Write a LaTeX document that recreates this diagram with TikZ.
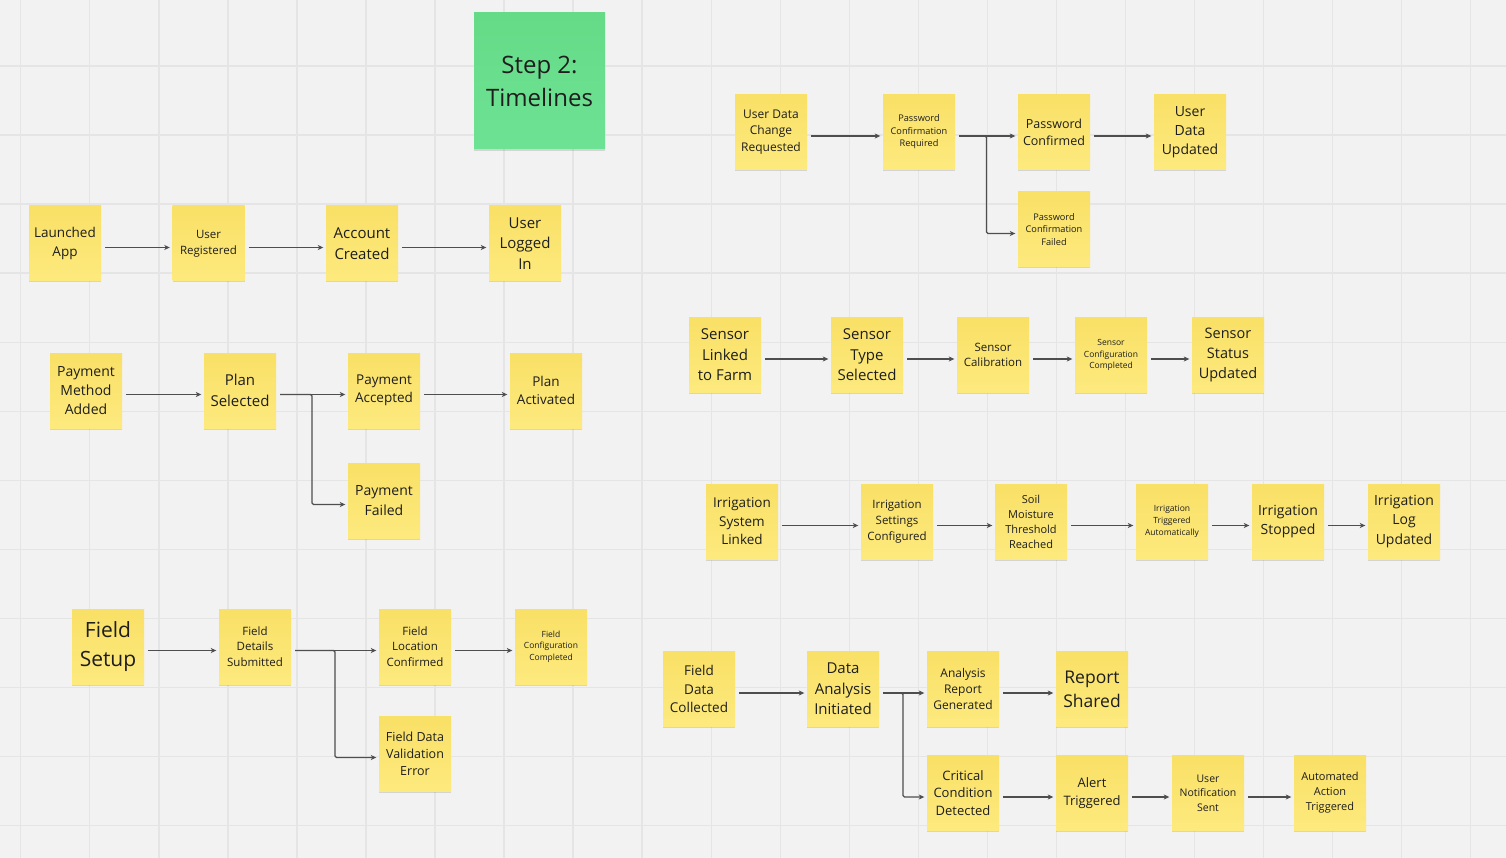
\documentclass[tikz,border=0pt]{standalone}
\usepackage{fontspec}
\setmainfont{Open Sans}
\usetikzlibrary{arrows.meta,calc,shadows}

\definecolor{board}{RGB}{242,242,242}
\definecolor{gridc}{RGB}{229,229,229}
\definecolor{stickytop}{RGB}{249,224,102}
\definecolor{stickybot}{RGB}{253,234,126}
\definecolor{greentop}{RGB}{101,219,135}
\definecolor{greenbot}{RGB}{110,226,148}
\definecolor{ink}{RGB}{30,30,30}
\definecolor{wire}{RGB}{78,78,78}

% font size with matching line spacing
\newcommand\fz[1]{\fontsize{#1}{\fpeval{1.37*#1}}\selectfont}

\tikzset{
  sticky/.style={rectangle, minimum width=72pt, minimum height=75pt,
    inner sep=0pt, align=center, text=ink, font=\fz{#1},
    top color=stickytop, bottom color=stickybot,
    drop shadow={shadow xshift=0pt, shadow yshift=-1.5pt, opacity=.12, fill=black}},
  title/.style={rectangle, minimum width=131pt, minimum height=136pt,
    inner sep=0pt, align=center, text=ink, font=\fz{24},
    top color=greentop, bottom color=greenbot,
    drop shadow={shadow xshift=0pt, shadow yshift=-2pt, opacity=.12, fill=black}},
  arr/.style={draw=wire, line width=1.1pt, rounded corners=1.5pt,
    -{Stealth[length=5.5pt,width=5pt,inset=1.5pt]},
    shorten <=4pt, shorten >=2.5pt},
  gridline/.style={draw=gridc, line width=1.4pt}
}

% straight connector and a two-way split
\newcommand\flow[2]{\draw[arr] ([yshift=-4pt]#1.east) -- ([yshift=-4pt]#2.west);}
\newcommand\fork[3]{\draw[arr] ([yshift=-4pt]#1.east) --
  ($([yshift=-4pt]#1.east)!.5!([yshift=-4pt]#2.west)$) |- ([yshift=-4pt]#3.west);}

\begin{document}
\begin{tikzpicture}[x=1pt,y=-1pt]
\useasboundingbox (0,0) rectangle (1506,858);
\fill[board] (0,0) rectangle (1506,858);
\foreach \i in {0,...,21} \draw[gridline] ({20.7+69.05*\i},0) -- ++(0,858);
\foreach \j in {1,...,12} \draw[gridline] (0,{-3+69.05*\j}) -- ++(1506,0);

\node[title] (ttl) at (539.5,81) {Step 2:\\Timelines};

% onboarding
\node[sticky=13.5] (launch) at (65,243.5) {Launched\\App};
\node[sticky=11.5] (ureg) at (208.5,243.5) {User\\Registered};
\node[sticky=15] (acct) at (362,243.5) {Account\\Created};
\node[sticky=15] (login) at (525,243.5) {User\\Logged\\In};
\flow{launch}{ureg}
\flow{ureg}{acct}
\flow{acct}{login}

% subscription
\node[sticky=14] (pma) at (86,390.5) {Payment\\Method\\Added};
\node[sticky=15] (plan) at (240,390.5) {Plan\\Selected};
\node[sticky=13.5] (pacc) at (384,390.5) {Payment\\Accepted};
\node[sticky=13.5] (pact) at (546,390.5) {Plan\\Activated};
\node[sticky=14] (pfail) at (384,500.5) {Payment\\Failed};
\flow{pma}{plan}
\flow{plan}{pacc}
\fork{plan}{pacc}{pfail}
\flow{pacc}{pact}

% field setup
\node[sticky=21] (fset) at (108,646.5) {Field\\Setup};
\node[sticky=11.5] (fdet) at (255,646.5) {Field\\Details\\Submitted};
\node[sticky=11.5] (floc) at (415,646.5) {Field\\Location\\Confirmed};
\node[sticky=8.5] (fconf) at (551,646.5) {Field\\Configuration\\Completed};
\node[sticky=12.5] (ferr) at (415,753.5) {Field Data\\Validation\\Error};
\flow{fset}{fdet}
\flow{fdet}{floc}
\fork{fdet}{floc}{ferr}
\flow{floc}{fconf}

% account data change
\node[sticky=12] (udcr) at (771,132) {User Data\\Change\\Requested};
\node[sticky=9.2] (pcr) at (919,132) {Password\\Confirmation\\Required};
\node[sticky=12.5] (pconf) at (1054,132) {Password\\Confirmed};
\node[sticky=14] (udu) at (1190,132) {User\\Data\\Updated};
\node[sticky=9.2] (pcf) at (1054,229.5) {Password\\Confirmation\\Failed};
\flow{udcr}{pcr}
\flow{pcr}{pconf}
\fork{pcr}{pconf}{pcf}
\flow{pconf}{udu}

% sensors
\node[sticky=15] (slink) at (725,355) {Sensor\\Linked\\to Farm};
\node[sticky=15] (stype) at (867,355) {Sensor\\Type\\Selected};
\node[sticky=11.5] (scal) at (993,355) {Sensor\\Calibration};
\node[sticky=8.5] (sconf) at (1111,355) {Sensor\\Configuration\\Completed};
\node[sticky=14.5] (sstat) at (1228,355) {Sensor\\Status\\Updated};
\flow{slink}{stype}
\flow{stype}{scal}
\flow{scal}{sconf}
\flow{sconf}{sstat}

% irrigation
\node[sticky=13.5] (isys) at (742,521.5) {Irrigation\\System\\Linked};
\node[sticky=11.5] (iset) at (897,521.5) {Irrigation\\Settings\\Configured};
\node[sticky=11] (soil) at (1031,521.5) {Soil\\Moisture\\Threshold\\Reached};
\node[sticky=8.5] (itrig) at (1172,521.5) {Irrigation\\Triggered\\Automatically};
\node[sticky=14] (istop) at (1288,521.5) {Irrigation\\Stopped};
\node[sticky=14] (ilog) at (1404,521.5) {Irrigation\\Log\\Updated};
\flow{isys}{iset}
\flow{iset}{soil}
\flow{soil}{itrig}
\flow{itrig}{istop}
\flow{istop}{ilog}

% field data analysis
\node[sticky=13.5] (fdc) at (699,689) {Field\\Data\\Collected};
\node[sticky=15] (dai) at (843,689) {Data\\Analysis\\Initiated};
\node[sticky=12] (arg) at (963,689) {Analysis\\Report\\Generated};
\node[sticky=17.5] (rsh) at (1092,689) {Report\\Shared};
\node[sticky=13] (ccd) at (963,793) {Critical\\Condition\\Detected};
\node[sticky=13] (alert) at (1092,793) {Alert\\Triggered};
\node[sticky=10.5] (uns) at (1208,793) {User\\Notification\\Sent};
\node[sticky=11] (aat) at (1330,793) {Automated\\Action\\Triggered};
\flow{fdc}{dai}
\flow{dai}{arg}
\fork{dai}{arg}{ccd}
\flow{arg}{rsh}
\flow{ccd}{alert}
\flow{alert}{uns}
\flow{uns}{aat}
\end{tikzpicture}
\end{document}
